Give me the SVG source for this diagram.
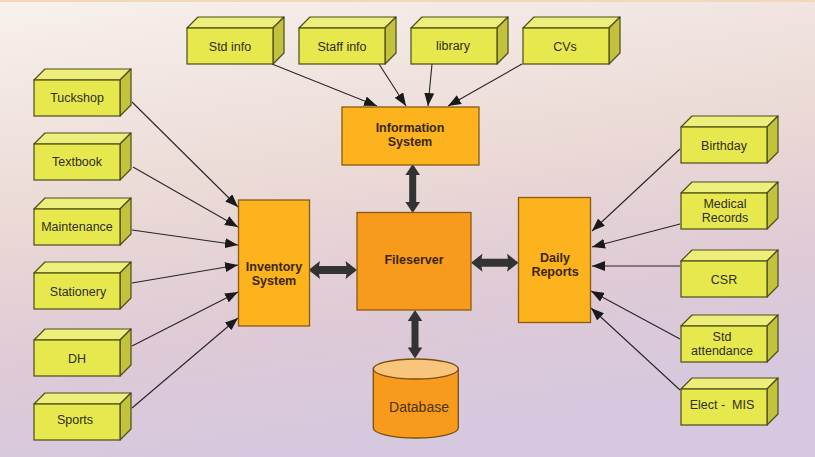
<svg xmlns="http://www.w3.org/2000/svg" width="815" height="457" viewBox="0 0 815 457">
<defs>
<linearGradient id="bg" x1="0" y1="0" x2="0.25" y2="1">
<stop offset="0" stop-color="#F8F1EC"/>
<stop offset="0.45" stop-color="#EBDAD6"/>
<stop offset="0.75" stop-color="#DFCAD6"/>
<stop offset="1" stop-color="#D6C8DE"/>
</linearGradient>
<marker id="ah" markerUnits="userSpaceOnUse" markerWidth="13" markerHeight="10" refX="13" refY="5" orient="auto">
<path d="M0,0 L13,5 L0,10 z" fill="#1a1a1a"/>
</marker>
<g id="box">
<path class="top" d="M0,0 L11,-11 L97,-11 L86,0 z"/>
<path class="side" d="M86,0 L97,-11 L97,25 L86,36 z"/>
<rect class="front" x="0" y="0" width="86" height="36"/>
</g>
</defs>
<style>
.top{fill:#EEEE7C;stroke:#4C4C18;stroke-width:1.2;stroke-linejoin:round}
.side{fill:#C2C23C;stroke:#4C4C18;stroke-width:1.2;stroke-linejoin:round}
.front{fill:#E7E84E;stroke:#4C4C18;stroke-width:1.2}
.lbl{font-family:"Liberation Sans",Arial,sans-serif;font-size:12.5px;fill:#2E2E1C;text-anchor:middle}
.bold{font-family:"Liberation Sans",Arial,sans-serif;font-size:12.5px;font-weight:bold;fill:#3A2606;text-anchor:middle}
.sys{fill:#FDB31E;stroke:#8A5A12;stroke-width:1.3}
.fs{fill:#F89B1D;stroke:#8A5A12;stroke-width:1.3}
.conn line{stroke:#262626;stroke-width:1.1;marker-end:url(#ah)}
.dbl{fill:#333333}
</style>
<rect x="0" y="0" width="815" height="457" fill="url(#bg)"/>
<rect x="0" y="0" width="815" height="2" fill="#F3D6BC"/>

<g id="connectors" class="conn">
<line x1="272" y1="64" x2="377" y2="106"/>
<line x1="379" y1="64" x2="406" y2="106"/>
<line x1="432" y1="64" x2="428" y2="106"/>
<line x1="522" y1="64" x2="448" y2="106"/>
<line x1="132" y1="102" x2="238" y2="207"/>
<line x1="133" y1="167" x2="238" y2="227"/>
<line x1="132" y1="230" x2="238" y2="245"/>
<line x1="132" y1="283" x2="238" y2="265"/>
<line x1="132" y1="346" x2="238" y2="292"/>
<line x1="132" y1="408" x2="238" y2="318"/>
<line x1="680" y1="149" x2="592" y2="231"/>
<line x1="680" y1="224" x2="592" y2="247"/>
<line x1="680" y1="266" x2="592" y2="266"/>
<line x1="680" y1="339" x2="591" y2="291"/>
<line x1="680" y1="390" x2="591" y2="308"/>
<path class="dbl" d="M412.7,164 L420,175 L416.2,175 L416.2,202 L420,202 L412.7,213 L405.4,202 L409.2,202 L409.2,175 L405.4,175 z"/>
<path class="dbl" d="M415,310 L422.3,321 L418.5,321 L418.5,347.5 L422.3,347.5 L415,358.5 L407.7,347.5 L411.5,347.5 L411.5,321 L407.7,321 z"/>
<path class="dbl" d="M308.5,270 L320,261 L319,266 L346.5,266 L345.5,261 L357,270 L345.5,279 L346.5,274 L319,274 L320,279 z"/>
<path class="dbl" d="M471,262.7 L482.5,253.7 L481.5,258.7 L508,258.7 L507,253.7 L518.5,262.7 L507,271.7 L508,266.7 L481.5,266.7 L482.5,271.7 z"/>
</g>

<g id="std-info"><use href="#box" x="187" y="28"/><text class="lbl" x="230" y="51">Std info</text></g>
<g id="staff-info"><use href="#box" x="299" y="28"/><text class="lbl" x="342" y="51">Staff info</text></g>
<g id="library"><use href="#box" x="411" y="28"/><text class="lbl" x="453" y="50">library</text></g>
<g id="cvs"><use href="#box" x="523" y="28"/><text class="lbl" x="565" y="51">CVs</text></g>

<g id="tuckshop"><use href="#box" x="34" y="80"/><text class="lbl" x="77" y="102">Tuckshop</text></g>
<g id="textbook"><use href="#box" x="34" y="144"/><text class="lbl" x="77" y="166">Textbook</text></g>
<g id="maintenance"><use href="#box" x="34" y="209"/><text class="lbl" x="77" y="231">Maintenance</text></g>
<g id="stationery"><use href="#box" x="34" y="273"/><text class="lbl" x="78" y="296">Stationery</text></g>
<g id="dh"><use href="#box" x="34" y="340"/><text class="lbl" x="77" y="363">DH</text></g>
<g id="sports"><use href="#box" x="34" y="404"/><text class="lbl" x="75" y="424">Sports</text></g>

<g id="birthday"><use href="#box" x="681" y="127"/><text class="lbl" x="724" y="150">Birthday</text></g>
<g id="medical-records"><use href="#box" x="681" y="193"/><text class="lbl" x="725" y="208">Medical</text><text class="lbl" x="725" y="222">Records</text></g>
<g id="csr"><use href="#box" x="681" y="261"/><text class="lbl" x="724" y="284">CSR</text></g>
<g id="std-attendance"><use href="#box" x="681" y="326"/><text class="lbl" x="722" y="341">Std</text><text class="lbl" x="722" y="355">attendance</text></g>
<g id="elect-mis"><use href="#box" x="681" y="389"/><text class="lbl" x="722" y="409" xml:space="preserve">Elect -  MIS</text></g>

<g id="information-system"><rect class="sys" x="342" y="107" width="137" height="58"/><text class="bold" x="410" y="132">Information</text><text class="bold" x="410" y="146">System</text></g>
<g id="inventory-system"><rect class="sys" x="238.5" y="200" width="71" height="126"/><text class="bold" x="274" y="271">Inventory</text><text class="bold" x="274" y="285">System</text></g>
<g id="daily-reports"><rect class="sys" x="518.5" y="197.5" width="72" height="125"/><text class="bold" x="555" y="262">Daily</text><text class="bold" x="555" y="276">Reports</text></g>
<g id="fileserver"><rect class="fs" x="357" y="212.5" width="114" height="97.5"/><text class="bold" x="414" y="264">Fileserver</text></g>
<g id="database">
<path d="M373.3,369 L373.3,428 A42.5,10 0 0 0 458.3,428 L458.3,369 z" fill="#F89B1D" stroke="#7A4E10" stroke-width="1.3"/>
<ellipse cx="415.8" cy="369" rx="42.5" ry="10" fill="#F9C47C" stroke="#7A4E10" stroke-width="1.3"/>
<text x="419" y="412" font-family="Liberation Sans, Arial, sans-serif" font-size="14" fill="#4A3214" text-anchor="middle">Database</text>
</g>
</svg>
